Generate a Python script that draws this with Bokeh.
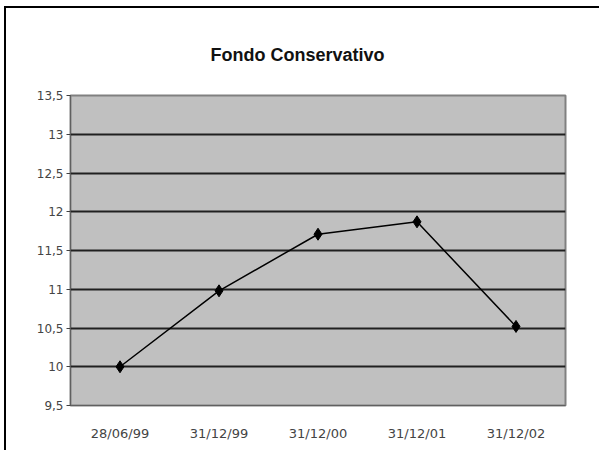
from bokeh.plotting import figure
from bokeh.models import Range1d, FixedTicker
from bokeh.embed import file_html
from bokeh.resources import INLINE

dates = ["28/06/99", "31/12/99", "31/12/00", "31/12/01", "31/12/02"]
values = [10.0, 10.98, 11.71, 11.87, 10.52]
y_ticks = [9.5, 10, 10.5, 11, 11.5, 12, 12.5, 13, 13.5]
y_labels = ["9,5", "10", "10,5", "11", "11,5", "12", "12,5", "13", "13,5"]

p = figure(width=595, height=444, x_range=dates, y_range=Range1d(9.5, 13.5),
           output_backend="svg", toolbar_location=None,
           min_border_left=64, min_border_right=36, min_border_top=87, min_border_bottom=47)
p.styles = {"border-left": "2px solid #000", "border-top": "2px solid #000",
            "margin-left": "4px", "margin-top": "6px"}

p.title.text = "Fondo Conservativo"
p.title.align = "left"
p.title.vertical_align = "top"
p.title.text_font = "Liberation Sans"
p.title.text_font_size = "18px"
p.title.text_font_style = "bold"
p.title.text_color = "#111111"
p.title.standoff = 58
p.title.offset = 140

p.background_fill_color = "#c0c0c0"
p.border_fill_color = "white"
p.outline_line_color = "#808080"
p.outline_line_width = 2

p.yaxis.ticker = FixedTicker(ticks=y_ticks)
p.yaxis.major_label_overrides = {t: l for t, l in zip(y_ticks, y_labels)}
p.yaxis.minor_tick_line_color = None
p.yaxis.major_tick_out = 4
p.yaxis.major_tick_in = 0
p.yaxis.major_label_standoff = 3
p.yaxis.axis_line_color = "#606060"
p.yaxis.major_tick_line_color = "#404040"
p.yaxis.major_label_text_font_size = "12px"

p.xaxis.major_tick_line_color = None
p.xaxis.axis_line_color = "#606060"
p.xaxis.major_label_standoff = 14
p.xaxis.major_label_text_font_size = "13px"

for ax in (p.xaxis, p.yaxis):
    ax.major_label_text_font = "DejaVu Sans"
    ax.major_label_text_color = "#444444"

p.xgrid.grid_line_color = None
p.ygrid.grid_line_color = "#202020"
p.ygrid.grid_line_width = 2
p.ygrid.grid_line_alpha = 1

p.line(dates, values, line_color="black", line_width=1.5)
p.scatter(dates, values, marker="diamond", size=12, fill_color="black", line_color="black")

open("out.html", "w").write(file_html(p, INLINE))
